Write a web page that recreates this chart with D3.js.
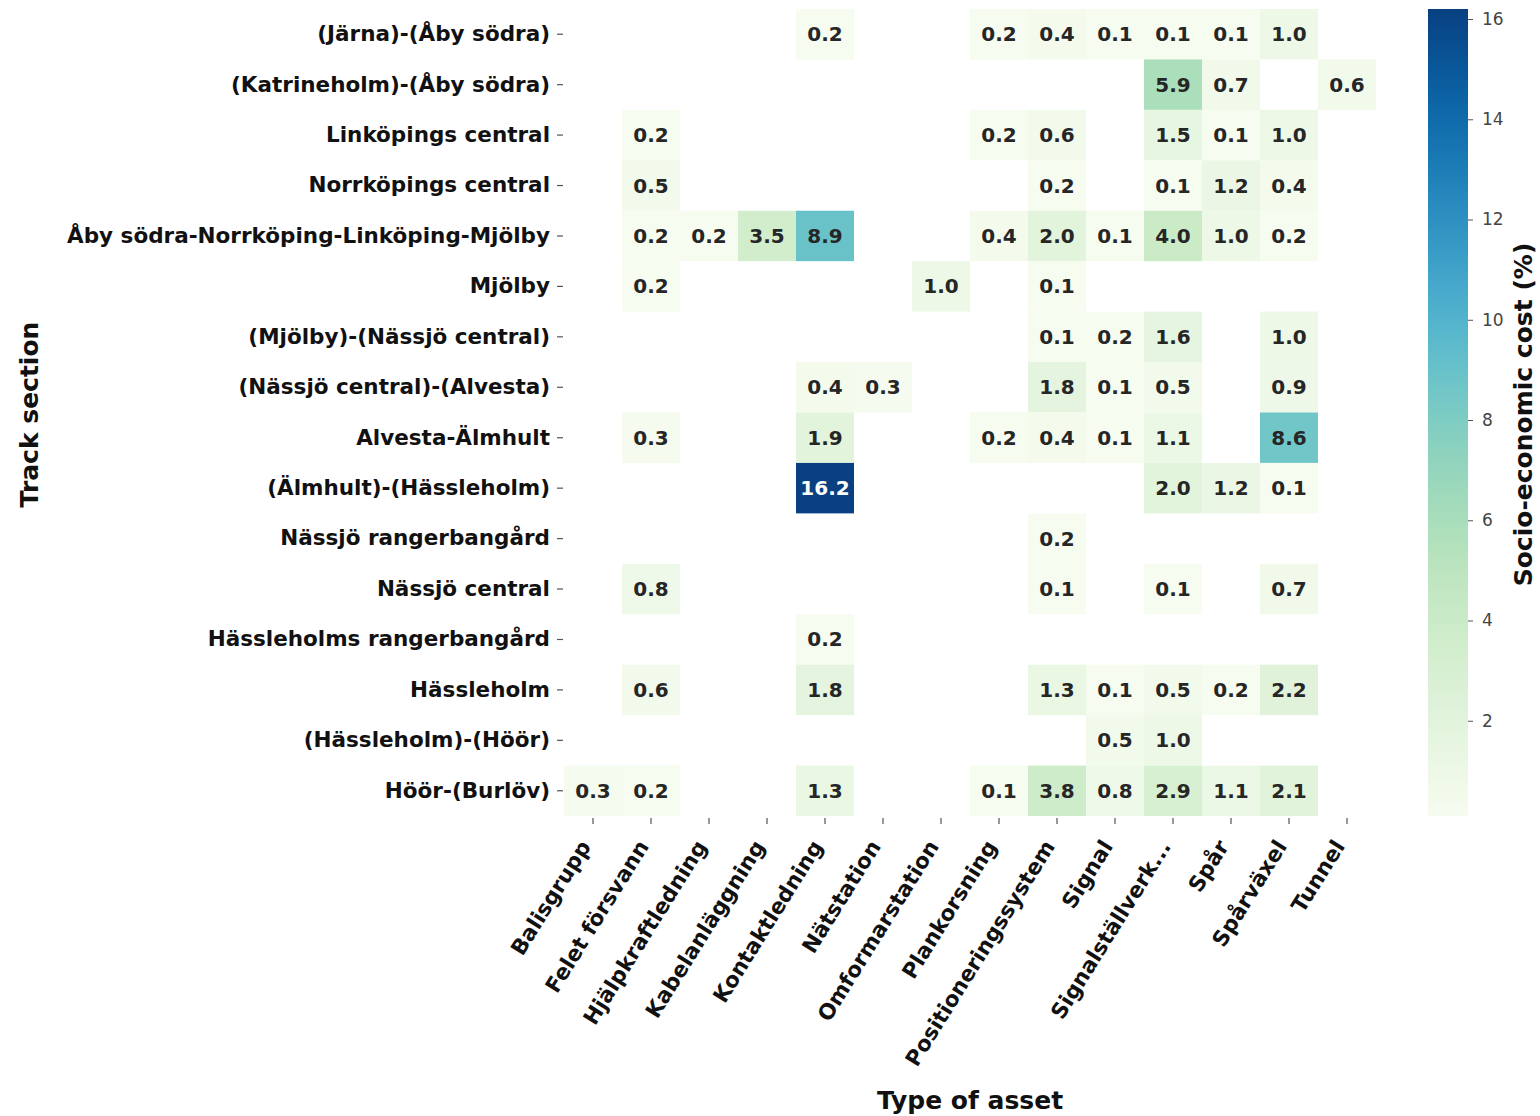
<!DOCTYPE html>
<html>
<head>
<meta charset="utf-8">
<script src="https://cdn.jsdelivr.net/npm/d3@7"></script>
<style>
  html, body { margin: 0; padding: 0; background: #fff; }
  svg { display: block; }
  text { font-family: "DejaVu Sans", sans-serif; }
</style>
</head>
<body>
<svg id="chart" width="1540" height="1116"></svg>
<script>
// Track sections (rows, top to bottom)
const sections = [
  "(Järna)-(Åby södra)",
  "(Katrineholm)-(Åby södra)",
  "Linköpings central",
  "Norrköpings central",
  "Åby södra-Norrköping-Linköping-Mjölby",
  "Mjölby",
  "(Mjölby)-(Nässjö central)",
  "(Nässjö central)-(Alvesta)",
  "Alvesta-Älmhult",
  "(Älmhult)-(Hässleholm)",
  "Nässjö rangerbangård",
  "Nässjö central",
  "Hässleholms rangerbangård",
  "Hässleholm",
  "(Hässleholm)-(Höör)",
  "Höör-(Burlöv)"
];

// Asset types (columns, left to right)
const assets = [
  "Balisgrupp", "Felet försvann", "Hjälpkraftledning", "Kabelanläggning",
  "Kontaktledning", "Nätstation", "Omformarstation", "Plankorsning",
  "Positioneringssystem", "Signal", "Signalställverk...", "Spår",
  "Spårväxel", "Tunnel"
];

// Socio-economic cost (%) per section, one value per asset type (null = no cost)
const costJarnaAby        = [null, null, null, null, 0.2, null, null, 0.2, 0.4, 0.1, 0.1, 0.1, 1.0, null];
const costKatrineholmAby  = [null, null, null, null, null, null, null, null, null, null, 5.9, 0.7, null, 0.6];
const costLinkoping       = [null, 0.2, null, null, null, null, null, 0.2, 0.6, null, 1.5, 0.1, 1.0, null];
const costNorrkoping      = [null, 0.5, null, null, null, null, null, null, 0.2, null, 0.1, 1.2, 0.4, null];
const costAbyMjolby       = [null, 0.2, 0.2, 3.5, 8.9, null, null, 0.4, 2.0, 0.1, 4.0, 1.0, 0.2, null];
const costMjolby          = [null, 0.2, null, null, null, null, 1.0, null, 0.1, null, null, null, null, null];
const costMjolbyNassjo    = [null, null, null, null, null, null, null, null, 0.1, 0.2, 1.6, null, 1.0, null];
const costNassjoAlvesta   = [null, null, null, null, 0.4, 0.3, null, null, 1.8, 0.1, 0.5, null, 0.9, null];
const costAlvestaAlmhult  = [null, 0.3, null, null, 1.9, null, null, 0.2, 0.4, 0.1, 1.1, null, 8.6, null];
const costAlmhultHassl    = [null, null, null, null, 16.2, null, null, null, null, null, 2.0, 1.2, 0.1, null];
const costNassjoRanger    = [null, null, null, null, null, null, null, null, 0.2, null, null, null, null, null];
const costNassjoCentral   = [null, 0.8, null, null, null, null, null, null, 0.1, null, 0.1, null, 0.7, null];
const costHasslRanger     = [null, null, null, null, 0.2, null, null, null, null, null, null, null, null, null];
const costHassleholm      = [null, 0.6, null, null, 1.8, null, null, null, 1.3, 0.1, 0.5, 0.2, 2.2, null];
const costHasslHoor       = [null, null, null, null, null, null, null, null, null, 0.5, 1.0, null, null, null];
const costHoorBurlov      = [0.3, 0.2, null, null, 1.3, null, null, 0.1, 3.8, 0.8, 2.9, 1.1, 2.1, null];

const costRows = [
  costJarnaAby, costKatrineholmAby, costLinkoping, costNorrkoping, costAbyMjolby,
  costMjolby, costMjolbyNassjo, costNassjoAlvesta, costAlvestaAlmhult, costAlmhultHassl,
  costNassjoRanger, costNassjoCentral, costHasslRanger, costHassleholm, costHasslHoor,
  costHoorBurlov
];

// Colour bar tick values
const colorbarTicks = [2, 4, 6, 8, 10, 12, 14, 16];

// ---- layout ----
const svg = d3.select("#chart");
const plot = { left: 564, right: 1376, top: 9, bottom: 816 };
const cbar = { left: 1428, width: 40 };

const cells = [];
costRows.forEach((row, i) => row.forEach((v, j) => {
  if (v !== null) cells.push({ section: sections[i], asset: assets[j], value: v });
}));

const vmin = d3.min(cells, d => d.value);
const vmax = d3.max(cells, d => d.value);

const x = d3.scaleBand().domain(assets).range([plot.left, plot.right]);
const y = d3.scaleBand().domain(sections).range([plot.top, plot.bottom]);
const color = d3.scaleSequential(d3.interpolateGnBu).domain([vmin, vmax]);

// ---- heatmap cells ----
svg.append("g").selectAll("rect").data(cells).join("rect")
  .attr("x", d => x(d.asset))
  .attr("y", d => y(d.section))
  .attr("width", x.bandwidth())
  .attr("height", y.bandwidth())
  .attr("fill", d => color(d.value));

// cell annotations: light text on dark cells
function textColor(v) {
  const c = d3.rgb(color(v));
  const lum = (0.2126 * c.r + 0.7152 * c.g + 0.0722 * c.b) / 255;
  return lum < 0.408 ? "#ffffff" : "#262626";
}
svg.append("g").selectAll("text").data(cells).join("text")
  .attr("x", d => x(d.asset) + x.bandwidth() / 2)
  .attr("y", d => y(d.section) + y.bandwidth() / 2)
  .attr("text-anchor", "middle")
  .attr("dominant-baseline", "central")
  .attr("font-size", 20)
  .attr("font-weight", "bold")
  .attr("fill", d => textColor(d.value))
  .text(d => d.value.toFixed(1));

// ---- y axis ----
const yAxis = svg.append("g")
  .attr("transform", `translate(${plot.left - 1},0)`)
  .call(d3.axisLeft(y).tickSize(6).tickPadding(7));
yAxis.select(".domain").remove();
yAxis.selectAll(".tick line").attr("stroke", "#555").attr("stroke-width", 1.2);
yAxis.selectAll(".tick text")
  .attr("font-size", 21.5).attr("font-weight", "bold").attr("fill", "#111")
  .attr("font-family", "DejaVu Sans");

// ---- x axis ----
const xAxis = svg.append("g")
  .attr("transform", `translate(0,${plot.bottom + 2})`)
  .call(d3.axisBottom(x).tickSize(6).tickPadding(6));
xAxis.select(".domain").remove();
xAxis.selectAll(".tick line").attr("stroke", "#555").attr("stroke-width", 1.2);
xAxis.selectAll(".tick text")
  .attr("font-size", 21.5).attr("font-weight", "bold").attr("fill", "#111")
  .attr("font-family", "DejaVu Sans")
  .attr("text-anchor", "end")
  .attr("dy", "0.35em")
  .attr("transform", "translate(-18,18) rotate(-58)");

// ---- axis titles ----
svg.append("text")
  .attr("x", (plot.left + plot.right) / 2)
  .attr("y", 1109)
  .attr("text-anchor", "middle")
  .attr("font-size", 25).attr("font-weight", "bold").attr("fill", "#111")
  .text("Type of asset");

svg.append("text")
  .attr("transform", `translate(38,${(plot.top + plot.bottom) / 2 + 2}) rotate(-90)`)
  .attr("text-anchor", "middle")
  .attr("font-size", 25).attr("font-weight", "bold").attr("fill", "#111")
  .text("Track section");

// ---- colour bar ----
const cy = d3.scaleLinear().domain([vmin, vmax]).range([plot.bottom, plot.top]);
const defs = svg.append("defs");
const grad = defs.append("linearGradient")
  .attr("id", "cbar-grad").attr("x1", 0).attr("y1", 1).attr("x2", 0).attr("y2", 0);
d3.range(0, 1.0001, 0.05).forEach(t => {
  grad.append("stop").attr("offset", t).attr("stop-color", color(vmin + t * (vmax - vmin)));
});
svg.append("rect")
  .attr("x", cbar.left).attr("y", plot.top)
  .attr("width", cbar.width).attr("height", plot.bottom - plot.top)
  .attr("fill", "url(#cbar-grad)");

const cAxis = svg.append("g")
  .attr("transform", `translate(${cbar.left + cbar.width},0)`)
  .call(d3.axisRight(cy).tickValues(colorbarTicks).tickSize(5).tickPadding(9));
cAxis.select(".domain").remove();
cAxis.selectAll(".tick line").attr("stroke", "#555");
cAxis.selectAll(".tick text")
  .attr("font-size", 17).attr("fill", "#444").attr("font-family", "DejaVu Sans");

svg.append("text")
  .attr("transform", `translate(1532,${(plot.top + plot.bottom) / 2 + 2}) rotate(-90)`)
  .attr("text-anchor", "middle")
  .attr("font-size", 25).attr("font-weight", "bold").attr("fill", "#111")
  .text("Socio-economic cost (%)");
</script>
</body>
</html>
